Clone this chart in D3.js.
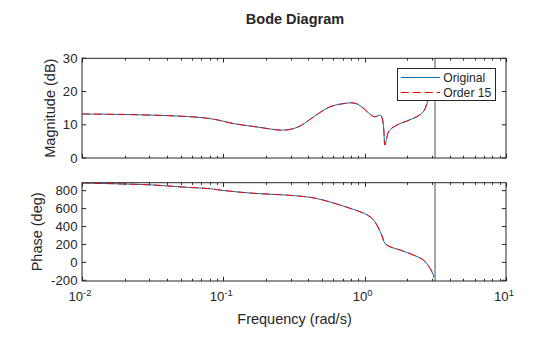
<!DOCTYPE html>
<html>
<head>
<meta charset="utf-8">
<script src="https://cdn.jsdelivr.net/npm/d3@7"></script>
<style>
  body { margin: 0; background: #fff; }
  svg { display: block; font-family: "Liberation Sans", Arial, Helvetica, sans-serif; }
</style>
</head>
<body>
<svg id="chart" width="560" height="337"></svg>
<script>
// ---- Data ----
const magFreq = [0.01, 0.0192, 0.0434, 0.0684, 0.0832, 0.0946, 0.117, 0.182, 0.252, 0.296, 0.349, 0.41, 0.568, 0.746, 0.809, 0.879, 0.978, 1.09, 1.18, 1.28, 1.32, 1.36, 1.39, 1.43, 1.49, 1.69, 1.98, 2.33, 2.6, 2.82, 2.95, 3.1416];
const magOriginal = [13.24, 13.1, 12.7, 12.2, 11.75, 11.3, 10.4, 9.2, 8.4, 8.6, 9.6, 11.6, 15.4, 16.5, 16.6, 16.3, 15.0, 13.2, 12.4, 12.9, 12.4, 9.4, 3.9, 5.9, 8.2, 9.9, 11.1, 12.4, 13.9, 17.5, 19.5, 24.0];
const magOrder15 = [13.24, 13.1, 12.7, 12.2, 11.75, 11.3, 10.4, 9.2, 8.4, 8.6, 9.6, 11.6, 15.4, 16.5, 16.6, 16.3, 15.0, 13.2, 12.4, 12.9, 12.4, 9.4, 3.9, 5.9, 8.2, 9.9, 11.1, 12.4, 13.9, 17.5, 19.5, 24.0];

const phaseFreq = [0.01, 0.0163, 0.0313, 0.051, 0.0805, 0.098, 0.154, 0.296, 0.41, 0.483, 0.568, 0.787, 0.978, 1.09, 1.18, 1.32, 1.39, 1.51, 1.78, 2.21, 2.6, 2.9, 3.06, 3.1416];
const phaseOriginal = [886, 878, 864, 841, 822, 804, 774, 748, 726, 704, 674, 604, 550, 510, 454, 306, 213, 175, 138, 82, 27, -66, -141, -197];
const phaseOrder15 = [886, 878, 864, 841, 822, 804, 774, 748, 726, 704, 674, 604, 550, 510, 454, 306, 213, 175, 138, 82, 27, -66, -141, -197];

const nyquist = 3.1416;
const xTicks = [0.01, 0.1, 1, 10];
const xTickExp = ["-2", "-1", "0", "1"];
const magTicks = [0, 10, 20, 30];
const phaseTicks = [-200, 0, 200, 400, 600, 800];
const seriesNames = ["Original", "Order 15"];

// ---- Layout ----
const svg = d3.select("#chart");
const L = 82, R = 506;
const top1 = 58.3, bot1 = 158;
const top2 = 182.7, bot2 = 281;
const axisColor = "#262626";
const blue = "#0072BD", red = "#FF0000";
const nyqColor = "#a6a6a6";

const x = d3.scaleLog().domain([0.01, 10]).range([L, R]);
const yMag = d3.scaleLinear().domain([0, 30]).range([bot1, top1]);
const yPh = d3.scaleLinear().domain([-208, 889]).range([bot2, top2]);

// minor ticks for log axis
const minorTicks = [];
for (let d = 0.01; d < 10; d *= 10) {
  for (let k = 2; k <= 9; k++) minorTicks.push(d * k);
}

function drawPanel(yScale, top, bot, yTicks, series, freq) {
  const g = svg.append("g");
  const clipId = "clip" + Math.round(top);
  svg.append("clipPath").attr("id", clipId)
    .append("rect").attr("x", L).attr("y", top).attr("width", R - L).attr("height", bot - top);

  const line = d3.line()
    .x((d, i) => x(freq[i]))
    .y(d => yScale(d))
    .curve(d3.curveCatmullRom.alpha(0.5));

  g.append("path").datum(series[0]).attr("d", line)
    .attr("fill", "none").attr("stroke", blue).attr("stroke-width", 1)
    .attr("clip-path", `url(#${clipId})`);
  g.append("path").datum(series[1]).attr("d", line)
    .attr("fill", "none").attr("stroke", red).attr("stroke-width", 1)
    .attr("stroke-dasharray", "8,4")
    .attr("clip-path", `url(#${clipId})`);

  // nyquist line (as a filled rect for crisp light grey)
  const nx = Math.round(x(nyquist));
  g.append("rect")
    .attr("x", nx - 1).attr("y", top).attr("width", 2).attr("height", bot - top)
    .style("fill", nyqColor).style("stroke", "none");

  // box
  g.append("rect").attr("x", L).attr("y", top).attr("width", R - L).attr("height", bot - top)
    .attr("fill", "none").attr("stroke", axisColor).attr("stroke-width", 1);

  // x ticks (inward, top & bottom)
  const tg = g.append("g").attr("stroke", axisColor).attr("stroke-width", 1);
  xTicks.forEach(t => {
    const px = Math.round(x(t)) + 0.5;
    tg.append("line").attr("x1", px).attr("x2", px).attr("y1", bot).attr("y2", bot - 4.2);
    tg.append("line").attr("x1", px).attr("x2", px).attr("y1", top).attr("y2", top + 4.2);
  });
  minorTicks.forEach(t => {
    const px = Math.round(x(t)) + 0.5;
    tg.append("line").attr("x1", px).attr("x2", px).attr("y1", bot).attr("y2", bot - 2.2);
    tg.append("line").attr("x1", px).attr("x2", px).attr("y1", top).attr("y2", top + 2.2);
  });
  // y ticks (inward, left & right)
  yTicks.forEach(t => {
    const py = yScale(t);
    tg.append("line").attr("x1", L).attr("x2", L + 4.2).attr("y1", py).attr("y2", py);
    tg.append("line").attr("x1", R).attr("x2", R - 4.2).attr("y1", py).attr("y2", py);
  });
  // y tick labels
  const lg = g.append("g").attr("fill", axisColor).attr("font-size", "13.2px").attr("text-anchor", "end");
  yTicks.forEach(t => {
    lg.append("text").attr("x", L - 4.5).attr("y", yScale(t)).attr("dy", "0.35em").text(t);
  });
  return g;
}

drawPanel(yMag, top1, bot1, magTicks, [magOriginal, magOrder15], magFreq);
drawPanel(yPh, top2, bot2, phaseTicks, [phaseOriginal, phaseOrder15], phaseFreq);

// x tick labels (10^n)
xTicks.forEach((t, i) => {
  const tx = svg.append("text").attr("x", x(t) - 2).attr("y", 300.7)
    .attr("fill", axisColor).attr("font-size", "13.2px").attr("text-anchor", "middle");
  tx.append("tspan").text("10");
  tx.append("tspan").attr("dy", -5).attr("font-size", "9.5px").text(xTickExp[i]);
});

// Axis labels
svg.append("text").attr("x", 294.5).attr("y", 323.5).attr("text-anchor", "middle")
  .attr("font-size", "14.5px").attr("fill", axisColor).text("Frequency (rad/s)");
svg.append("text").attr("transform", `translate(55,${(top1 + bot1) / 2}) rotate(-90)`)
  .attr("text-anchor", "middle").attr("font-size", "14.5px").attr("fill", axisColor).text("Magnitude (dB)");
svg.append("text").attr("transform", `translate(42,${(top2 + bot2) / 2}) rotate(-90)`)
  .attr("text-anchor", "middle").attr("font-size", "14.5px").attr("fill", axisColor).text("Phase (deg)");

// Title
svg.append("text").attr("x", 295).attr("y", 24).attr("text-anchor", "middle")
  .attr("font-size", "14.5px").attr("font-weight", "bold").attr("fill", axisColor).text("Bode Diagram");

// Legend
const leg = svg.append("g");
leg.append("rect").attr("x", 397.5).attr("y", 68.5).attr("width", 98).attr("height", 32)
  .attr("fill", "#fff").attr("stroke", axisColor).attr("stroke-width", 1);
const legColors = [blue, red];
const legDash = [null, "8,4"];
seriesNames.forEach((name, i) => {
  const ly = 77.5 + i * 15;
  leg.append("line").attr("x1", 400.7).attr("x2", 440).attr("y1", ly).attr("y2", ly)
    .attr("stroke", legColors[i]).attr("stroke-width", 1)
    .attr("stroke-dasharray", legDash[i]);
  leg.append("text").attr("x", 443.3).attr("y", ly).attr("dy", "0.35em")
    .attr("font-size", "12.2px").attr("fill", axisColor).text(name);
});
</script>
</body>
</html>
